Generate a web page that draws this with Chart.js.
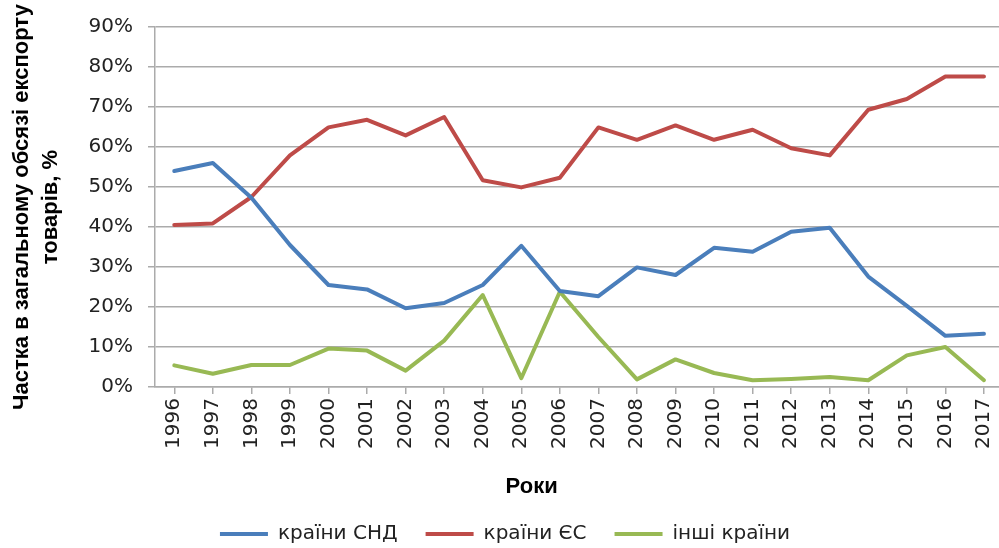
<!DOCTYPE html>
<html>
<head>
<meta charset="utf-8">
<script src="https://cdn.jsdelivr.net/npm/chart.js@4/dist/chart.umd.min.js"></script>
<style>
  html, body { margin: 0; padding: 0; background: #fff; overflow: hidden; }
  #wrap { width: 1012px; height: 554px; }
</style>
</head>
<body>
<div id="wrap"><canvas id="chart" width="1012" height="554"></canvas></div>
<script>
const years = ['1996', '1997', '1998', '1999', '2000', '2001', '2002', '2003', '2004', '2005', '2006',
  '2007', '2008', '2009', '2010', '2011', '2012', '2013', '2014', '2015', '2016', '2017'];

// частка у загальному обсязі експорту, %
const cisShare = [54, 56, 47.3, 35.5, 25.5, 24.4, 19.7, 21, 25.5, 35.3, 24, 22.7, 29.9, 28, 34.8, 33.8, 38.8, 39.8, 27.6, 20.3, 12.8, 13.3];
const euShare = [40.5, 40.9, 47.5, 57.9, 64.9, 66.8, 62.9, 67.5, 51.7, 49.9, 52.3, 64.9, 61.8, 65.4, 61.8, 64.3, 59.7, 57.9, 69.3, 72, 77.6, 77.6];
const otherShare = [5.4, 3.3, 5.5, 5.5, 9.6, 9.1, 4.1, 11.6, 23, 2.2, 23.8, 12.5, 1.9, 6.9, 3.5, 1.7, 2, 2.5, 1.7, 7.9, 10, 1.7];

const seriesNames = ['країни СНД', 'країни ЄС', 'інші країни'];
const yTicks = [0, 10, 20, 30, 40, 50, 60, 70, 80, 90];

const gridColor = '#ababab';
const textColor = '#222';
const tickFont = { family: '"DejaVu Sans", sans-serif', size: 20 };

function line(label, data, color) {
  return {
    label, data,
    borderColor: color,
    backgroundColor: color,
    borderWidth: 4,
    pointRadius: 0,
    tension: 0,
    borderJoinStyle: 'round',
    borderCapStyle: 'round'
  };
}

// "Роки" sits left of the plot centre in the original, so draw it by hand
const xTitle = {
  id: 'xTitle',
  afterDraw(chart) {
    const { ctx, chartArea } = chart;
    ctx.save();
    ctx.font = 'bold 22px "Liberation Sans", Arial, sans-serif';
    ctx.fillStyle = '#000';
    ctx.textAlign = 'center';
    ctx.textBaseline = 'middle';
    ctx.fillText('Роки', chartArea.left + chartArea.width * 0.444, chartArea.bottom + 100);
    ctx.restore();
  }
};

new Chart(document.getElementById('chart'), {
  type: 'line',
  data: {
    labels: years,
    datasets: [
      line(seriesNames[0], cisShare, '#4a7ebb'),
      line(seriesNames[1], euShare, '#be4b48'),
      line(seriesNames[2], otherShare, '#98b954')
    ]
  },
  options: {
    responsive: false,
    animation: false,
    devicePixelRatio: 1,
    layout: { padding: { top: 25, right: 2, bottom: 0, left: 0 } },
    plugins: {
      tooltip: { enabled: false },
      legend: {
        position: 'bottom',
        labels: {
          usePointStyle: true,
          pointStyle: 'line',
          pointStyleWidth: 48,
          padding: 28,
          color: textColor,
          font: { family: '"DejaVu Sans", sans-serif', size: 20 }
        }
      }
    },
    scales: {
      x: {
        offset: true,
        grid: { drawOnChartArea: false, drawTicks: true, tickLength: 7, color: gridColor, lineWidth: 1.5 },
        border: { color: gridColor, width: 1.5 },
        ticks: { autoSkip: false, minRotation: 90, maxRotation: 90, padding: 4, color: textColor, font: tickFont },
        afterFit: s => { s.height = 109; }
      },
      y: {
        min: 0,
        max: 90,
        afterBuildTicks: s => { s.ticks = yTicks.map(v => ({ value: v })); },
        grid: { color: gridColor, lineWidth: 1.5, tickLength: 7 },
        border: { color: gridColor, width: 1.5 },
        ticks: { padding: 15, color: textColor, font: tickFont, callback: v => v + '%' },
        title: {
          display: true,
          text: ['Частка в загальному обсязі експорту', 'товарів, %'],
          color: '#000',
          font: { family: '"Liberation Sans", Arial, sans-serif', size: 22, weight: 'bold', lineHeight: '29px' },
          padding: { top: 7.5, bottom: 0 }
        },
        afterFit: s => { s.width = 155; }
      }
    }
  },
  plugins: [xTitle]
});
</script>
</body>
</html>
